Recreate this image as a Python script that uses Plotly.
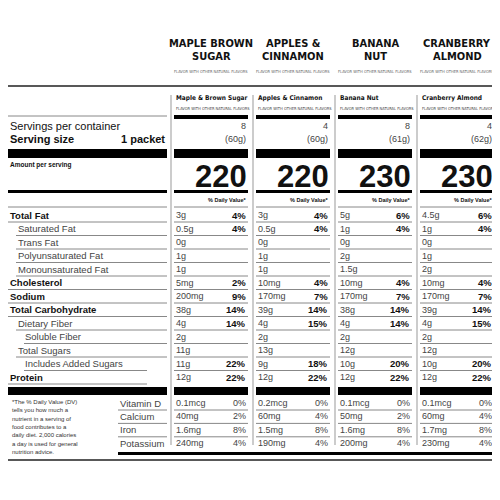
import plotly.graph_objects as go

flavors = ["Maple & Brown Sugar", "Apples & Cinnamon", "Banana Nut", "Cranberry Almond"]
flavor_heads = [["MAPLE BROWN", "SUGAR"], ["APPLES &", "CINNAMON"], ["BANANA", "NUT"], ["CRANBERRY", "ALMOND"]]
servings = ["8", "4", "8", "4"]
serving_size = ["(60g)", "(60g)", "(61g)", "(62g)"]
calories = ["220", "220", "230", "230"]

# label, indent level, bold
nutrients = [("Total Fat", 0, True), ("Saturated Fat", 1, False), ("Trans Fat", 1, False),
             ("Polyunsaturated Fat", 1, False), ("Monounsaturated Fat", 1, False),
             ("Cholesterol", 0, True), ("Sodium", 0, True), ("Total Carbohydrate", 0, True),
             ("Dietary Fiber", 1, False), ("Soluble Fiber", 2, False), ("Total Sugars", 1, False),
             ("Includes Added Sugars", 2, False), ("Protein", 0, True)]
amounts = [
    ["3g", "0.5g", "0g", "1g", "1g", "5mg", "200mg", "38g", "4g", "2g", "11g", "11g", "12g"],
    ["3g", "0.5g", "0g", "1g", "1g", "10mg", "170mg", "39g", "4g", "2g", "13g", "9g", "12g"],
    ["5g", "1g", "0g", "2g", "1.5g", "10mg", "170mg", "38g", "4g", "2g", "12g", "10g", "12g"],
    ["4.5g", "1g", "0g", "1g", "2g", "10mg", "170mg", "39g", "4g", "2g", "12g", "10g", "12g"],
]
dv = [
    ["4%", "4%", "", "", "", "2%", "9%", "14%", "14%", "", "", "22%", "22%"],
    ["4%", "4%", "", "", "", "4%", "7%", "14%", "15%", "", "", "18%", "22%"],
    ["6%", "4%", "", "", "", "4%", "7%", "14%", "14%", "", "", "20%", "22%"],
    ["6%", "4%", "", "", "", "4%", "7%", "14%", "15%", "", "", "20%", "22%"],
]
vitamins = ["Vitamin D", "Calcium", "Iron", "Potassium"]
vit_amounts = [
    ["0.1mcg", "40mg", "1.6mg", "240mg"],
    ["0.2mcg", "60mg", "1.5mg", "190mg"],
    ["0.1mcg", "50mg", "1.6mg", "200mg"],
    ["0.1mcg", "60mg", "1.7mg", "230mg"],
]
vit_dv = [
    ["0%", "2%", "8%", "4%"],
    ["0%", "4%", "8%", "4%"],
    ["0%", "2%", "8%", "4%"],
    ["0%", "4%", "8%", "4%"],
]
footnote = ["*The % Daily Value (DV)", "tells you how much a", "nutrient in a serving of",
            "food contributes to a", "daily diet. 2,000 calories", "a day is used for general",
            "nutrition advice."]

SANS = "Liberation Sans, Arial, sans-serif"
NARROW = "Liberation Sans Narrow, DejaVu Sans Condensed, sans-serif"
col_x0 = [174, 256, 338, 420]
col_w = 74

fig = go.Figure()
ann = []
shapes = []


def txt(x, y, s, size, bold=False, anchor="left", font=SANS, color="#111"):
    if bold:
        s = "<b>" + s + "</b>"
    ann.append(dict(x=x, y=y, text=s, showarrow=False, xanchor=anchor, yanchor="middle",
                    font=dict(size=size, family=font, color=color), xref="x", yref="y"))


def bar(x0, x1, y0, y1, color="#000"):
    shapes.append(dict(type="rect", x0=x0, x1=x1, y0=y0, y1=y1, xref="x", yref="y",
                       fillcolor=color, line=dict(width=0)))


def hline(x0, x1, y, color="#888", w=1):
    shapes.append(dict(type="line", x0=x0, x1=x1, y0=y, y1=y, xref="x", yref="y",
                       line=dict(color=color, width=w)))


# flavor headers above the box
for i, (l1, l2) in enumerate(flavor_heads):
    cx = col_x0[i] + col_w / 2
    txt(cx, 43, l1, 11, True, "center", NARROW)
    txt(cx, 56, l2, 11, True, "center", NARROW)
    txt(cx, 71, "FLAVOR WITH OTHER NATURAL FLAVORS", 4, False, "center", NARROW, "#666")

# outer box
shapes.append(dict(type="rect", x0=1, x1=499, y0=86, y1=460, xref="x", yref="y",
                   line=dict(color="#222", width=1.5)))

# left section
txt(7, 104, "Nutrition Facts", 22.5, True)
hline(8, 167, 116, "#888", 1)
txt(8, 126, "Servings per container", 11)
txt(8, 139, "Serving size", 11, True)
txt(167, 139, "1 packet", 11, True, "right")
bar(8, 167, 149, 158)
txt(8, 165, "Amount per serving", 6.5, True)
txt(7, 179, "Calories", 22, True)
bar(8, 167, 190, 193)

row_y = [215 + 13.5 * k for k in range(len(nutrients))]
for k, (name, lvl, b) in enumerate(nutrients):
    txt(8 + 8 * lvl - (1 if lvl == 2 else 0), row_y[k], name, 9.5, b, color="#111" if b else "#444")
    hline(8 + (8 * lvl if lvl else 0), 167 if k < len(nutrients) - 2 else 147, row_y[k] + 7)
hline(8, 167, 207)
bar(8, 167, 387, 395)

for k, line in enumerate(footnote):
    txt(10, 402 + 8.3 * k, line, 6, color="#333")
vit_y = [403 + 13.4 * k for k in range(len(vitamins))]
for k, v in enumerate(vitamins):
    txt(118, vit_y[k], v, 9.5, color="#444")
    if k < 3:
        hline(118, 167, vit_y[k] + 7)
bar(118, 493, 452, 455)

# columns
for i in range(4):
    x0 = col_x0[i]
    x1 = x0 + col_w
    shapes.append(dict(type="line", x0=x0 - 3, x1=x0 - 3, y0=95, y1=445, xref="x", yref="y",
                       line=dict(color="#999", width=1)))
    txt(x0, 98, flavors[i], 6.5, True, font=NARROW)
    txt(x0, 108, "FLAVOR WITH OTHER NATURAL FLAVORS", 4, False, font=NARROW, color="#444")
    bar(x0, x1, 115, 119)
    txt(x1, 126, servings[i], 9, anchor="right", color="#444")
    txt(x1, 139, serving_size[i], 9, anchor="right", color="#444")
    bar(x0, x1, 149, 158)
    txt(x1 + 1, 176, calories[i], 31, True, "right")
    bar(x0, x1, 190, 193)
    txt(x1, 200, "% Daily Value*", 5.5, True, "right")
    hline(x0, x1, 207)
    for k in range(len(nutrients)):
        txt(x0, row_y[k], amounts[i][k], 9, color="#444")
        if dv[i][k]:
            txt(x1, row_y[k], dv[i][k], 9.5, True, "right")
        if k < len(nutrients) - 1:
            hline(x0, x1, row_y[k] + 7)
    bar(x0, x1, 387, 395)
    for k in range(len(vitamins)):
        txt(x0, vit_y[k], vit_amounts[i][k], 9, color="#444")
        txt(x1, vit_y[k], vit_dv[i][k], 9, anchor="right", color="#444")
        if k < 3:
            hline(x0, x1, vit_y[k] + 7)

# the page puts the figure 8px in from the corner, so shift the ranges to compensate
fig.update_layout(
    width=500, height=500, margin=dict(l=0, r=0, t=0, b=0),
    paper_bgcolor="white", plot_bgcolor="white", showlegend=False,
    xaxis=dict(range=[8, 508], visible=False, fixedrange=True),
    yaxis=dict(range=[508, 8], visible=False, fixedrange=True),
    annotations=ann, shapes=shapes,
)
fig.write_html("out.html")
